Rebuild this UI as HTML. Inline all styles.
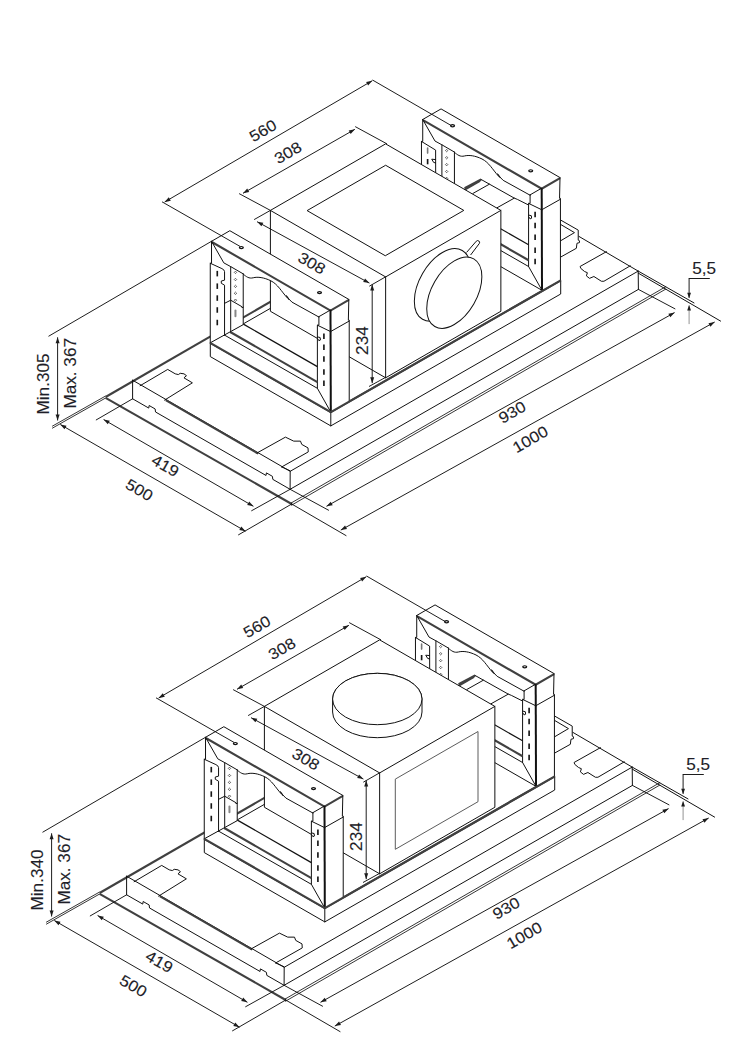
<!DOCTYPE html>
<html><head><meta charset="utf-8"><title>Dimensions</title><style>
html,body{margin:0;padding:0;background:#fff}
svg{display:block}
.l{fill:none;stroke:#111;stroke-width:1;stroke-linejoin:round;stroke-linecap:round}
.n{fill:none;stroke:#111;stroke-width:.85}
.m{fill:none;stroke:#111;stroke-width:1.2}
.k{fill:none;stroke:#404040;stroke-width:2.1}
.kk{fill:none;stroke:#111;stroke-width:2}
.w{fill:#fff;stroke:none}
.wf{fill:#fff;stroke:#111;stroke-width:1;stroke-linejoin:round}
.g{fill:none;stroke:#5c5c5c;stroke-width:1}
.h{fill:#fff;stroke:#111;stroke-width:1.2}
.s{stroke:#151515;stroke-width:1.65;stroke-linecap:butt}
.sg2{stroke:#777;stroke-width:1.6;stroke-linecap:round}
.sg{stroke:#888;stroke-width:2;stroke-linecap:round}
.d{fill:none;stroke:#222;stroke-width:.7}
.dl{fill:none;stroke:#111;stroke-width:.95}
.dg{fill:none;stroke:#888;stroke-width:.9}
.a{fill:#1c1c1c;stroke:none}
.t{font-family:"Liberation Sans",sans-serif;fill:#1e1e28;stroke:#1e1e28;stroke-width:.12}
</style></head><body>
<svg width="734" height="1045" viewBox="0 0 734 1045">
<rect width="734" height="1045" fill="#fff"/>
<g>
<polygon class="w" points="105.6,396.5 480,180.3 666.1,286.5 666.1,288.9 291.7,505.1 105.6,398.5"/>
<polyline class="k" points="105.6,397.8 291.7,504"/>
<polyline class="n" points="291.7,502.7 666.1,286.5"/>
<polyline class="n" points="291.7,505.1 666.1,288.9"/>
<polyline class="l" points="291.7,502.7 291.7,505.1"/>
<polygon class="w" points="132.6,380.2 480.6,180 638.2,271.1 638.4,289.4 290.1,489.3 132.6,398.8"/>
<polyline class="n" points="52.1,426.3 105.6,396"/>
<polyline class="n" points="52.1,428.3 105.6,398"/>
<polyline class="k" points="105.6,397 480,180.8"/>
<polyline class="l" points="578.9,236.4 638.2,271.1 694,302.9"/>
<polyline class="l" points="638.2,273.1 720.6,321.1"/>
<polyline class="l" points="132.6,380.2 132.6,398.8"/>
<polyline class="l" points="290.2,471.3 290.1,489.3"/>
<polyline class="l" points="638.2,271.1 638.4,289.4"/>
<polyline class="l" points="132.6,380.2 290.2,471.3 638.2,271.1"/>
<polyline class="l" points="290.1,489.3 638.4,289.4"/>
<polyline class="l" points="132.6,398.8 148.76,408.09 149.14,405.5 155.15,408.96 155.53,411.98 266.04,475.48 266.42,472.89 272.43,476.35 272.81,479.36 290.1,489.3"/>
<polyline class="k" points="165.7,400.13 258.23,453.62"/>
<polyline class="l" points="140.11,385.72 167.69,369.43 175.21,373.82 178.34,374.57 180.22,373.31 183.98,373.82 186.49,375.7 183.98,377.83 192.38,382.84 164.55,400.14"/>
<polyline class="l" points="257.12,452.92 285.45,437.13 293.72,441.14 300.49,441.14 301.74,444.4 308.01,447.91 308.26,451.92 281.69,466.96"/>
<polyline class="l" points="281.69,466.96 289.96,470.72"/>
<polyline class="l" points="606.43,251.67 580.11,266.46 580.74,268.34 584.5,271.47 587.38,272.73 586.38,275.86 589.51,278.37 593.9,276.49 601.42,281.25 603.93,281.25 630.25,265.83"/>
<polygon class="w" points="210.3,342.8 440.2,211 560.7,280.3 560.7,294 330.8,425.9 210.3,356.6"/>
<polyline class="l" points="210.3,342.8 440.2,211"/>
<polyline class="k" points="210.3,342.8 330.8,412.1 560.7,280.3"/>
<polyline class="l" points="210.3,342.8 210.3,356.6 330.8,425.9 560.7,294 560.7,280.3"/>
<polyline class="l" points="330.8,412.1 330.8,425.9"/>
<polyline class="k" points="464.59,188.3 481.16,179.5"/>
<polyline class="l" points="481.16,179.5 489.44,184.16 514.29,198.13 517.39,199.38 528.27,204.86"/>
<polyline class="l" points="489.44,184.16 472.87,193.47"/>
<polyline class="l" points="496.69,207.97 514.29,198.13"/>
<polyline class="l" points="560.68,220.08 578.23,230.11 578.23,240.14 579.48,240.76 579.48,242.64 576.98,243.27 576.35,248.29 560.68,257.06"/>
<polyline class="l" points="560.68,224.47 574.47,232.62 560.68,240.76"/>
<g transform="translate(211.2,-121.8)">
<polygon class="w" points="211.52,241.29 330.49,309.98 318.9,316.66 318.9,317.03 291.95,302.12 288.19,298.86 283.8,292.59 290.23,300.21 285.22,295.19 280.21,289.55 275.19,283.91 270.18,280.28 265.17,278.27 260.15,277.27 253.26,277.77 250.75,278.65 248.24,277.64 243.23,274.14 230.7,266.61 223.8,262.85"/>
<polygon class="w" points="211.52,241.29 223.8,262.85 230.7,266.61 243.23,273.88 243.23,324.65 224.43,335.3 210.26,342.82 210.26,263.23 211.52,263.23"/>
<polygon class="w" points="330.49,309.98 348.82,299.4 348.35,320.17 349.23,320.17 349.23,401.47 330.81,412.13 317.39,388.31 317.39,325.18 318.9,325.18 318.9,316.66"/>
<polygon class="w" points="210.26,342.82 243.86,324.39 317.39,366.63 317.39,388.31 330.81,412.13"/>
<polygon class="w" points="211.52,241.29 229.85,230.71 348.82,299.4 330.49,309.98"/>
<polyline class="l" points="211.52,241.29 229.85,230.71 348.82,299.4"/>
<polyline class="k" points="348.82,299.9 330.49,310.58 211.82,241.99"/>
<ellipse class="h" cx="241.35" cy="247.56" rx="2" ry="1.05"/>
<ellipse class="h" cx="319.52" cy="292.59" rx="2" ry="1.05"/>
<polyline class="l" points="211.52,241.29 211.52,263.23 210.26,263.23 210.26,342.82"/>
<polyline class="l" points="211.52,241.29 223.8,262.85 230.7,266.61 243.23,273.88"/>
<polyline class="l" points="210.26,263.23 224.42,271.89 224.55,335.3"/>
<polyline class="l" points="224.42,281.39 220.52,280.99 222.52,284.29 224.42,284.69"/>
<polyline class="l" points="230.7,266.61 230.7,332.8"/>
<polyline class="l" points="243.23,273.88 243.23,324.65"/>
<polyline class="l" points="224.55,303.34 230.7,300.21 241.98,306.72 241.98,307.73 243.23,307.23"/>
<polyline class="l" points="210.26,342.82 243.23,324.65"/>
<line class="sg2" x1="216.42" y1="269.89" x2="216.42" y2="274.89"/>
<line class="s" x1="216.42" y1="280.79" x2="216.42" y2="286.09"/>
<line class="s" x1="217.28" y1="295.32" x2="217.28" y2="300.83"/>
<line class="s" x1="217.28" y1="307.23" x2="217.28" y2="312.74"/>
<line class="s" x1="217.28" y1="319.76" x2="217.28" y2="325.28"/>
<polygon class="d" points="234.26,272.38 235.46,271.18 236.66,272.38 235.46,273.58"/>
<polygon class="d" points="234.26,279.52 235.46,278.32 236.66,279.52 235.46,280.72"/>
<polygon class="d" points="234.26,286.42 235.46,285.22 236.66,286.42 235.46,287.62"/>
<polygon class="d" points="234.26,293.31 235.46,292.11 236.66,293.31 235.46,294.51"/>
<polygon class="d" points="234.26,300.21 235.46,299.01 236.66,300.21 235.46,301.41"/>
<line class="sg" x1="235.46" y1="310.49" x2="235.46" y2="316.25"/>
<path class="l" d="M243.23 274.14 C246.36 276.64 248.87 278.9 253.26 277.77 S263.91 277.39 270.81 280.78 S281.46 291.43 287.1 297.7 S283.8 291.34 286.94 296.98 L291.95 302.12 L318.9 317.03"/>
<polyline class="l" points="318.9,316.66 330.49,309.98"/>
<polyline class="l" points="318.9,316.66 318.9,325.18 317.39,325.18 317.39,388.31 330.81,412.13"/>
<polyline class="l" points="317.39,325.18 330.81,331.7"/>
<polyline class="kk" points="330.49,309.98 330.81,412.13"/>
<polyline class="l" points="348.82,299.4 348.35,320.17 349.23,320.17 349.23,401.47"/>
<polyline class="l" points="330.81,331.45 349.23,321.04"/>
<line class="s" x1="323.91" y1="333.54" x2="323.91" y2="339.05"/>
<line class="s" x1="323.91" y1="344.57" x2="323.91" y2="350.08"/>
<line class="s" x1="323.91" y1="356.35" x2="323.91" y2="361.87"/>
<line class="s" x1="323.91" y1="369.26" x2="323.91" y2="374.78"/>
<line class="s" x1="323.91" y1="380.54" x2="323.91" y2="386.06"/>
<polyline class="l" points="317.64,336.92 320.15,337.55 320.4,340.06 318.9,340.68 317.64,338.8"/>
<polyline class="m" points="243.86,324.39 317.39,366.63"/>
<polyline class="k" points="230.7,332.28 317.39,382.05"/>
<polyline class="l" points="224.43,335.04 317.39,388.31"/>
<polyline class="l" points="210.26,342.82 330.81,412.13"/>
</g>
<polygon class="wf" points="270.4,210.4 385.63,143.87 500.86,210.4 500.86,311.27 385.63,377.8 270.4,311.27"/>
<polyline class="l" points="270.4,210.4 385.63,276.93 500.86,210.4"/>
<polyline class="l" points="385.63,276.93 385.63,377.8"/>
<polygon class="l" points="307.44,210.4 385.63,165.26 463.82,210.4 385.63,255.54"/>
<ellipse class="l" cx="0" cy="0" rx="39.7" ry="22.9" transform="translate(442.4,284.9) rotate(-60)"/>
<path class="wf" d="M466.6 252.4 L476.3 241.2 A1.9 1.9 0 0 1 479.3 243.5 L470.6 255"/>
<ellipse class="wf" cx="0" cy="0" rx="39" ry="22.5" transform="translate(454.3,292.7) rotate(-60)"/>
<polygon class="w" points="211.52,241.29 330.49,309.98 318.9,316.66 318.9,317.03 291.95,302.12 288.19,298.86 283.8,292.59 290.23,300.21 285.22,295.19 280.21,289.55 275.19,283.91 270.18,280.28 265.17,278.27 260.15,277.27 253.26,277.77 250.75,278.65 248.24,277.64 243.23,274.14 230.7,266.61 223.8,262.85"/>
<polygon class="w" points="211.52,241.29 223.8,262.85 230.7,266.61 243.23,273.88 243.23,324.65 224.43,335.3 210.26,342.82 210.26,263.23 211.52,263.23"/>
<polygon class="w" points="330.49,309.98 348.82,299.4 348.35,320.17 349.23,320.17 349.23,401.47 330.81,412.13 317.39,388.31 317.39,325.18 318.9,325.18 318.9,316.66"/>
<polygon class="w" points="210.26,342.82 243.86,324.39 317.39,366.63 317.39,388.31 330.81,412.13"/>
<polygon class="w" points="211.52,241.29 229.85,230.71 348.82,299.4 330.49,309.98"/>
<polyline class="l" points="211.52,241.29 229.85,230.71 348.82,299.4"/>
<polyline class="k" points="348.82,299.9 330.49,310.58 211.82,241.99"/>
<ellipse class="h" cx="241.35" cy="247.56" rx="2" ry="1.05"/>
<ellipse class="h" cx="319.52" cy="292.59" rx="2" ry="1.05"/>
<polyline class="l" points="211.52,241.29 211.52,263.23 210.26,263.23 210.26,342.82"/>
<polyline class="l" points="211.52,241.29 223.8,262.85 230.7,266.61 243.23,273.88"/>
<polyline class="l" points="210.26,263.23 221.92,268.62 223.8,269.87 224.55,271.63 224.55,280.15 221.29,281.03 221.29,283.29 224.55,285.17 224.55,335.3"/>
<polyline class="l" points="230.7,266.61 230.7,332.8"/>
<polyline class="l" points="243.23,273.88 243.23,324.65"/>
<polyline class="l" points="224.55,303.34 230.7,300.21 241.98,306.72 241.98,307.73 243.23,307.23"/>
<polyline class="l" points="210.26,342.82 243.23,324.65"/>
<line class="s" x1="217.28" y1="270.88" x2="217.28" y2="276.39"/>
<line class="s" x1="217.28" y1="283.41" x2="217.28" y2="288.93"/>
<line class="s" x1="217.28" y1="295.32" x2="217.28" y2="300.83"/>
<line class="s" x1="217.28" y1="307.23" x2="217.28" y2="312.74"/>
<line class="s" x1="217.28" y1="319.76" x2="217.28" y2="325.28"/>
<polygon class="d" points="234.26,272.38 235.46,271.18 236.66,272.38 235.46,273.58"/>
<polygon class="d" points="234.26,279.52 235.46,278.32 236.66,279.52 235.46,280.72"/>
<polygon class="d" points="234.26,286.42 235.46,285.22 236.66,286.42 235.46,287.62"/>
<polygon class="d" points="234.26,293.31 235.46,292.11 236.66,293.31 235.46,294.51"/>
<polygon class="d" points="234.26,300.21 235.46,299.01 236.66,300.21 235.46,301.41"/>
<line class="sg" x1="235.46" y1="310.49" x2="235.46" y2="316.25"/>
<path class="l" d="M243.23 274.14 C246.36 276.64 248.87 278.9 253.26 277.77 S263.91 277.39 270.81 280.78 S281.46 291.43 287.1 297.7 S283.8 291.34 286.94 296.98 L291.95 302.12 L318.9 317.03"/>
<polyline class="l" points="318.9,316.66 330.49,309.98"/>
<polyline class="l" points="318.9,316.66 318.9,325.18 317.39,325.18 317.39,388.31 330.81,412.13"/>
<polyline class="l" points="317.39,325.18 330.81,331.7"/>
<polyline class="kk" points="330.49,309.98 330.81,412.13"/>
<polyline class="l" points="348.82,299.4 348.35,320.17 349.23,320.17 349.23,401.47"/>
<polyline class="l" points="330.81,331.45 349.23,321.04"/>
<line class="s" x1="323.91" y1="333.54" x2="323.91" y2="339.05"/>
<line class="s" x1="323.91" y1="344.57" x2="323.91" y2="350.08"/>
<line class="s" x1="323.91" y1="356.35" x2="323.91" y2="361.87"/>
<line class="s" x1="323.91" y1="369.26" x2="323.91" y2="374.78"/>
<line class="s" x1="323.91" y1="380.54" x2="323.91" y2="386.06"/>
<polyline class="l" points="317.64,336.92 320.15,337.55 320.4,340.06 318.9,340.68 317.64,338.8"/>
<polyline class="m" points="243.86,324.39 317.39,366.63"/>
<polyline class="k" points="230.7,332.28 317.39,382.05"/>
<polyline class="l" points="224.43,335.04 317.39,388.31"/>
<polyline class="k" points="210.26,342.82 330.81,412.13"/>
<polyline class="k" points="330.81,412.13 560.7,280.3"/>
<polyline class="dl" points="48.5,336.3 211.52,241.29"/>
<polyline class="dl" points="57.6,337.3 57.6,420.5"/>
<polygon class="a" points="57.6,337.3 59.6,343.3 55.6,343.3"/>
<polygon class="a" points="57.6,420.5 55.6,414.5 59.6,414.5"/>
<polyline class="dl" points="103.6,419.5 253.4,506.3"/>
<polygon class="a" points="103.6,419.5 109.79,420.78 107.79,424.24"/>
<polygon class="a" points="253.4,506.3 247.21,505.02 249.21,501.56"/>
<polyline class="dl" points="60.3,424.5 245.5,531.2"/>
<polygon class="a" points="60.3,424.5 66.5,425.76 64.5,429.23"/>
<polygon class="a" points="245.5,531.2 239.3,529.94 241.3,526.47"/>
<polyline class="dl" points="326.5,506.3 674.6,312.6"/>
<polygon class="a" points="326.5,506.3 330.77,501.63 332.72,505.13"/>
<polygon class="a" points="674.6,312.6 670.33,317.27 668.38,313.77"/>
<polyline class="dl" points="340.8,530.1 714.7,322"/>
<polygon class="a" points="340.8,530.1 345.07,525.43 347.02,528.93"/>
<polygon class="a" points="714.7,322 710.43,326.67 708.48,323.17"/>
<polyline class="dl" points="164.6,202 372.3,80.7"/>
<polygon class="a" points="164.6,202 168.77,197.25 170.79,200.7"/>
<polygon class="a" points="372.3,80.7 368.13,85.45 366.11,82"/>
<polyline class="dl" points="243,193.3 354.9,129.3"/>
<polygon class="a" points="243,193.3 247.22,188.59 249.2,192.06"/>
<polygon class="a" points="354.9,129.3 350.68,134.01 348.7,130.54"/>
<polyline class="dl" points="257.1,221.7 369.4,283.1"/>
<polygon class="a" points="257.1,221.7 263.32,222.82 261.41,226.33"/>
<polygon class="a" points="369.4,283.1 363.18,281.98 365.09,278.47"/>
<polyline class="dl" points="372.2,284.5 372.2,383.2"/>
<polygon class="a" points="372.2,284.5 374.2,290.5 370.2,290.5"/>
<polygon class="a" points="372.2,383.2 370.2,377.2 374.2,377.2"/>
<polyline class="dl" points="132.6,398.8 95.9,420.1"/>
<polyline class="dl" points="290.1,489.3 251.3,510.9"/>
<polyline class="dl" points="290.1,489.3 328.9,510.4"/>
<polyline class="dl" points="638.4,289.4 675.3,309"/>
<polyline class="dl" points="291.7,504 238.2,535"/>
<polyline class="dl" points="291.7,504 346.4,535.8"/>
<polyline class="dl" points="162,201.8 240.2,246.5"/>
<polyline class="dl" points="372.5,80 451.3,125.6"/>
<polyline class="dl" points="239.1,193.6 270.4,210.4"/>
<polyline class="dl" points="355.2,126.6 387,143.9"/>
<polyline class="dl" points="254.1,219.6 270.4,210.4"/>
<polyline class="dl" points="369.3,286.2 385.7,276.8"/>
<polyline class="dl" points="369,386.5 385.7,377.3"/>
<polyline class="dl" points="688.7,278.5 709.8,278.5"/>
<polyline class="dl" points="689.1,278.5 689.1,297.8"/>
<polygon class="a" points="689.1,298.3 687.2,292.7 691,292.7"/>
<polyline class="dg" points="689.1,305.5 689.1,324.1"/>
<polygon class="a" points="689.1,305 691,310.6 687.2,310.6"/>
<text class="t" font-size="15.6" transform="translate(262.8,130.6) rotate(-30) scale(1.1,1)" text-anchor="middle" y="5.58">560</text>
<text class="t" font-size="15.6" transform="translate(287.9,152.6) rotate(-30) scale(1.1,1)" text-anchor="middle" y="5.58">308</text>
<text class="t" font-size="15.6" transform="translate(311.8,263) rotate(30) scale(1.1,1)" text-anchor="middle" y="5.58">308</text>
<text class="t" font-size="15.6" transform="translate(362.8,340.6) rotate(-90) scale(1.1,1)" text-anchor="middle" y="5.58">234</text>
<text class="t" font-size="15.6" transform="translate(43,384) rotate(-90) scale(1.1,1)" text-anchor="middle" y="5.58">Min.305</text>
<text class="t" font-size="15.6" transform="translate(70.1,373.3) rotate(-90) scale(1.1,1)" text-anchor="middle" y="5.58">Max. 367</text>
<text class="t" font-size="15.6" transform="translate(165.4,465.5) rotate(30) scale(1.1,1)" text-anchor="middle" y="5.58">419</text>
<text class="t" font-size="15.6" transform="translate(139.3,489.7) rotate(30) scale(1.1,1)" text-anchor="middle" y="5.58">500</text>
<text class="t" font-size="15.6" transform="translate(512,412) rotate(-30) scale(1.1,1)" text-anchor="middle" y="5.58">930</text>
<text class="t" font-size="15.6" transform="translate(530.1,439.1) rotate(-30) scale(1.1,1)" text-anchor="middle" y="5.58">1000</text>
<text class="t" font-size="15.6" transform="translate(704.2,268.4) rotate(0) scale(1.1,1)" text-anchor="middle" y="5.58">5,5</text>
</g>
<g transform="translate(-6,496)">
<polygon class="w" points="105.6,396.5 480,180.3 666.1,286.5 666.1,288.9 291.7,505.1 105.6,398.5"/>
<polyline class="k" points="105.6,397.8 291.7,504"/>
<polyline class="n" points="291.7,502.7 666.1,286.5"/>
<polyline class="n" points="291.7,505.1 666.1,288.9"/>
<polyline class="l" points="291.7,502.7 291.7,505.1"/>
<polygon class="w" points="132.6,380.2 480.6,180 638.2,271.1 638.4,289.4 290.1,489.3 132.6,398.8"/>
<polyline class="n" points="52.1,426.3 105.6,396"/>
<polyline class="n" points="52.1,428.3 105.6,398"/>
<polyline class="k" points="105.6,397 480,180.8"/>
<polyline class="l" points="578.9,236.4 638.2,271.1 694,302.9"/>
<polyline class="l" points="638.2,273.1 720.6,321.1"/>
<polyline class="l" points="132.6,380.2 132.6,398.8"/>
<polyline class="l" points="290.2,471.3 290.1,489.3"/>
<polyline class="l" points="638.2,271.1 638.4,289.4"/>
<polyline class="l" points="132.6,380.2 290.2,471.3 638.2,271.1"/>
<polyline class="l" points="290.1,489.3 638.4,289.4"/>
<polyline class="l" points="132.6,398.8 148.76,408.09 149.14,405.5 155.15,408.96 155.53,411.98 266.04,475.48 266.42,472.89 272.43,476.35 272.81,479.36 290.1,489.3"/>
<polyline class="k" points="165.7,400.13 258.23,453.62"/>
<polyline class="l" points="140.11,385.72 167.69,369.43 175.21,373.82 178.34,374.57 180.22,373.31 183.98,373.82 186.49,375.7 183.98,377.83 192.38,382.84 164.55,400.14"/>
<polyline class="l" points="257.12,452.92 285.45,437.13 293.72,441.14 300.49,441.14 301.74,444.4 308.01,447.91 308.26,451.92 281.69,466.96"/>
<polyline class="l" points="281.69,466.96 289.96,470.72"/>
<polyline class="l" points="606.43,251.67 580.11,266.46 580.74,268.34 584.5,271.47 587.38,272.73 586.38,275.86 589.51,278.37 593.9,276.49 601.42,281.25 603.93,281.25 630.25,265.83"/>
<polygon class="w" points="210.3,342.8 440.2,211 560.7,280.3 560.7,294 330.8,425.9 210.3,356.6"/>
<polyline class="l" points="210.3,342.8 440.2,211"/>
<polyline class="k" points="210.3,342.8 330.8,412.1 560.7,280.3"/>
<polyline class="l" points="210.3,342.8 210.3,356.6 330.8,425.9 560.7,294 560.7,280.3"/>
<polyline class="l" points="330.8,412.1 330.8,425.9"/>
<polyline class="k" points="464.59,188.3 481.16,179.5"/>
<polyline class="l" points="481.16,179.5 489.44,184.16 514.29,198.13 517.39,199.38 528.27,204.86"/>
<polyline class="l" points="489.44,184.16 472.87,193.47"/>
<polyline class="l" points="496.69,207.97 514.29,198.13"/>
<polyline class="l" points="560.68,220.08 578.23,230.11 578.23,240.14 579.48,240.76 579.48,242.64 576.98,243.27 576.35,248.29 560.68,257.06"/>
<polyline class="l" points="560.68,224.47 574.47,232.62 560.68,240.76"/>
<g transform="translate(211.2,-121.8)">
<polygon class="w" points="211.52,241.29 330.49,309.98 318.9,316.66 318.9,317.03 291.95,302.12 288.19,298.86 283.8,292.59 290.23,300.21 285.22,295.19 280.21,289.55 275.19,283.91 270.18,280.28 265.17,278.27 260.15,277.27 253.26,277.77 250.75,278.65 248.24,277.64 243.23,274.14 230.7,266.61 223.8,262.85"/>
<polygon class="w" points="211.52,241.29 223.8,262.85 230.7,266.61 243.23,273.88 243.23,324.65 224.43,335.3 210.26,342.82 210.26,263.23 211.52,263.23"/>
<polygon class="w" points="330.49,309.98 348.82,299.4 348.35,320.17 349.23,320.17 349.23,401.47 330.81,412.13 317.39,388.31 317.39,325.18 318.9,325.18 318.9,316.66"/>
<polygon class="w" points="210.26,342.82 243.86,324.39 317.39,366.63 317.39,388.31 330.81,412.13"/>
<polygon class="w" points="211.52,241.29 229.85,230.71 348.82,299.4 330.49,309.98"/>
<polyline class="l" points="211.52,241.29 229.85,230.71 348.82,299.4"/>
<polyline class="k" points="348.82,299.9 330.49,310.58 211.82,241.99"/>
<ellipse class="h" cx="241.35" cy="247.56" rx="2" ry="1.05"/>
<ellipse class="h" cx="319.52" cy="292.59" rx="2" ry="1.05"/>
<polyline class="l" points="211.52,241.29 211.52,263.23 210.26,263.23 210.26,342.82"/>
<polyline class="l" points="211.52,241.29 223.8,262.85 230.7,266.61 243.23,273.88"/>
<polyline class="l" points="210.26,263.23 224.42,271.89 224.55,335.3"/>
<polyline class="l" points="224.42,281.39 220.52,280.99 222.52,284.29 224.42,284.69"/>
<polyline class="l" points="230.7,266.61 230.7,332.8"/>
<polyline class="l" points="243.23,273.88 243.23,324.65"/>
<polyline class="l" points="224.55,303.34 230.7,300.21 241.98,306.72 241.98,307.73 243.23,307.23"/>
<polyline class="l" points="210.26,342.82 243.23,324.65"/>
<line class="sg2" x1="216.42" y1="269.89" x2="216.42" y2="274.89"/>
<line class="s" x1="216.42" y1="280.79" x2="216.42" y2="286.09"/>
<line class="s" x1="217.28" y1="295.32" x2="217.28" y2="300.83"/>
<line class="s" x1="217.28" y1="307.23" x2="217.28" y2="312.74"/>
<line class="s" x1="217.28" y1="319.76" x2="217.28" y2="325.28"/>
<polygon class="d" points="234.26,272.38 235.46,271.18 236.66,272.38 235.46,273.58"/>
<polygon class="d" points="234.26,279.52 235.46,278.32 236.66,279.52 235.46,280.72"/>
<polygon class="d" points="234.26,286.42 235.46,285.22 236.66,286.42 235.46,287.62"/>
<polygon class="d" points="234.26,293.31 235.46,292.11 236.66,293.31 235.46,294.51"/>
<polygon class="d" points="234.26,300.21 235.46,299.01 236.66,300.21 235.46,301.41"/>
<line class="sg" x1="235.46" y1="310.49" x2="235.46" y2="316.25"/>
<path class="l" d="M243.23 274.14 C246.36 276.64 248.87 278.9 253.26 277.77 S263.91 277.39 270.81 280.78 S281.46 291.43 287.1 297.7 S283.8 291.34 286.94 296.98 L291.95 302.12 L318.9 317.03"/>
<polyline class="l" points="318.9,316.66 330.49,309.98"/>
<polyline class="l" points="318.9,316.66 318.9,325.18 317.39,325.18 317.39,388.31 330.81,412.13"/>
<polyline class="l" points="317.39,325.18 330.81,331.7"/>
<polyline class="kk" points="330.49,309.98 330.81,412.13"/>
<polyline class="l" points="348.82,299.4 348.35,320.17 349.23,320.17 349.23,401.47"/>
<polyline class="l" points="330.81,331.45 349.23,321.04"/>
<line class="s" x1="323.91" y1="333.54" x2="323.91" y2="339.05"/>
<line class="s" x1="323.91" y1="344.57" x2="323.91" y2="350.08"/>
<line class="s" x1="323.91" y1="356.35" x2="323.91" y2="361.87"/>
<line class="s" x1="323.91" y1="369.26" x2="323.91" y2="374.78"/>
<line class="s" x1="323.91" y1="380.54" x2="323.91" y2="386.06"/>
<polyline class="l" points="317.64,336.92 320.15,337.55 320.4,340.06 318.9,340.68 317.64,338.8"/>
<polyline class="m" points="243.86,324.39 317.39,366.63"/>
<polyline class="k" points="230.7,332.28 317.39,382.05"/>
<polyline class="l" points="224.43,335.04 317.39,388.31"/>
<polyline class="l" points="210.26,342.82 330.81,412.13"/>
</g>
<polygon class="wf" points="270.4,210.4 385.63,143.87 500.86,210.4 500.86,311.27 385.63,377.8 270.4,311.27"/>
<polyline class="l" points="270.4,210.4 385.63,276.93 500.86,210.4"/>
<polyline class="l" points="385.63,276.93 385.63,377.8"/>
<path class="wf" d="M338.6 216 A44.7 25.7 0 0 0 428 216 L428 203 A44.7 25.7 0 0 0 338.6 203 Z"/>
<ellipse class="wf" cx="383.3" cy="203" rx="44.7" ry="25.7"/>
<polygon class="g" points="401.3,283.1 484,235.5 484,305.7 401.3,353.3"/>
<polygon class="w" points="211.52,241.29 330.49,309.98 318.9,316.66 318.9,317.03 291.95,302.12 288.19,298.86 283.8,292.59 290.23,300.21 285.22,295.19 280.21,289.55 275.19,283.91 270.18,280.28 265.17,278.27 260.15,277.27 253.26,277.77 250.75,278.65 248.24,277.64 243.23,274.14 230.7,266.61 223.8,262.85"/>
<polygon class="w" points="211.52,241.29 223.8,262.85 230.7,266.61 243.23,273.88 243.23,324.65 224.43,335.3 210.26,342.82 210.26,263.23 211.52,263.23"/>
<polygon class="w" points="330.49,309.98 348.82,299.4 348.35,320.17 349.23,320.17 349.23,401.47 330.81,412.13 317.39,388.31 317.39,325.18 318.9,325.18 318.9,316.66"/>
<polygon class="w" points="210.26,342.82 243.86,324.39 317.39,366.63 317.39,388.31 330.81,412.13"/>
<polygon class="w" points="211.52,241.29 229.85,230.71 348.82,299.4 330.49,309.98"/>
<polyline class="l" points="211.52,241.29 229.85,230.71 348.82,299.4"/>
<polyline class="k" points="348.82,299.9 330.49,310.58 211.82,241.99"/>
<ellipse class="h" cx="241.35" cy="247.56" rx="2" ry="1.05"/>
<ellipse class="h" cx="319.52" cy="292.59" rx="2" ry="1.05"/>
<polyline class="l" points="211.52,241.29 211.52,263.23 210.26,263.23 210.26,342.82"/>
<polyline class="l" points="211.52,241.29 223.8,262.85 230.7,266.61 243.23,273.88"/>
<polyline class="l" points="210.26,263.23 221.92,268.62 223.8,269.87 224.55,271.63 224.55,280.15 221.29,281.03 221.29,283.29 224.55,285.17 224.55,335.3"/>
<polyline class="l" points="230.7,266.61 230.7,332.8"/>
<polyline class="l" points="243.23,273.88 243.23,324.65"/>
<polyline class="l" points="224.55,303.34 230.7,300.21 241.98,306.72 241.98,307.73 243.23,307.23"/>
<polyline class="l" points="210.26,342.82 243.23,324.65"/>
<line class="s" x1="217.28" y1="270.88" x2="217.28" y2="276.39"/>
<line class="s" x1="217.28" y1="283.41" x2="217.28" y2="288.93"/>
<line class="s" x1="217.28" y1="295.32" x2="217.28" y2="300.83"/>
<line class="s" x1="217.28" y1="307.23" x2="217.28" y2="312.74"/>
<line class="s" x1="217.28" y1="319.76" x2="217.28" y2="325.28"/>
<polygon class="d" points="234.26,272.38 235.46,271.18 236.66,272.38 235.46,273.58"/>
<polygon class="d" points="234.26,279.52 235.46,278.32 236.66,279.52 235.46,280.72"/>
<polygon class="d" points="234.26,286.42 235.46,285.22 236.66,286.42 235.46,287.62"/>
<polygon class="d" points="234.26,293.31 235.46,292.11 236.66,293.31 235.46,294.51"/>
<polygon class="d" points="234.26,300.21 235.46,299.01 236.66,300.21 235.46,301.41"/>
<line class="sg" x1="235.46" y1="310.49" x2="235.46" y2="316.25"/>
<path class="l" d="M243.23 274.14 C246.36 276.64 248.87 278.9 253.26 277.77 S263.91 277.39 270.81 280.78 S281.46 291.43 287.1 297.7 S283.8 291.34 286.94 296.98 L291.95 302.12 L318.9 317.03"/>
<polyline class="l" points="318.9,316.66 330.49,309.98"/>
<polyline class="l" points="318.9,316.66 318.9,325.18 317.39,325.18 317.39,388.31 330.81,412.13"/>
<polyline class="l" points="317.39,325.18 330.81,331.7"/>
<polyline class="kk" points="330.49,309.98 330.81,412.13"/>
<polyline class="l" points="348.82,299.4 348.35,320.17 349.23,320.17 349.23,401.47"/>
<polyline class="l" points="330.81,331.45 349.23,321.04"/>
<line class="s" x1="323.91" y1="333.54" x2="323.91" y2="339.05"/>
<line class="s" x1="323.91" y1="344.57" x2="323.91" y2="350.08"/>
<line class="s" x1="323.91" y1="356.35" x2="323.91" y2="361.87"/>
<line class="s" x1="323.91" y1="369.26" x2="323.91" y2="374.78"/>
<line class="s" x1="323.91" y1="380.54" x2="323.91" y2="386.06"/>
<polyline class="l" points="317.64,336.92 320.15,337.55 320.4,340.06 318.9,340.68 317.64,338.8"/>
<polyline class="m" points="243.86,324.39 317.39,366.63"/>
<polyline class="k" points="230.7,332.28 317.39,382.05"/>
<polyline class="l" points="224.43,335.04 317.39,388.31"/>
<polyline class="k" points="210.26,342.82 330.81,412.13"/>
<polyline class="k" points="330.81,412.13 560.7,280.3"/>
<polyline class="dl" points="48.5,336.3 211.52,241.29"/>
<polyline class="dl" points="57.6,337.3 57.6,420.5"/>
<polygon class="a" points="57.6,337.3 59.6,343.3 55.6,343.3"/>
<polygon class="a" points="57.6,420.5 55.6,414.5 59.6,414.5"/>
<polyline class="dl" points="103.6,419.5 253.4,506.3"/>
<polygon class="a" points="103.6,419.5 109.79,420.78 107.79,424.24"/>
<polygon class="a" points="253.4,506.3 247.21,505.02 249.21,501.56"/>
<polyline class="dl" points="60.3,424.5 245.5,531.2"/>
<polygon class="a" points="60.3,424.5 66.5,425.76 64.5,429.23"/>
<polygon class="a" points="245.5,531.2 239.3,529.94 241.3,526.47"/>
<polyline class="dl" points="326.5,506.3 674.6,312.6"/>
<polygon class="a" points="326.5,506.3 330.77,501.63 332.72,505.13"/>
<polygon class="a" points="674.6,312.6 670.33,317.27 668.38,313.77"/>
<polyline class="dl" points="340.8,530.1 714.7,322"/>
<polygon class="a" points="340.8,530.1 345.07,525.43 347.02,528.93"/>
<polygon class="a" points="714.7,322 710.43,326.67 708.48,323.17"/>
<polyline class="dl" points="164.6,202 372.3,80.7"/>
<polygon class="a" points="164.6,202 168.77,197.25 170.79,200.7"/>
<polygon class="a" points="372.3,80.7 368.13,85.45 366.11,82"/>
<polyline class="dl" points="243,193.3 354.9,129.3"/>
<polygon class="a" points="243,193.3 247.22,188.59 249.2,192.06"/>
<polygon class="a" points="354.9,129.3 350.68,134.01 348.7,130.54"/>
<polyline class="dl" points="257.1,221.7 369.4,283.1"/>
<polygon class="a" points="257.1,221.7 263.32,222.82 261.41,226.33"/>
<polygon class="a" points="369.4,283.1 363.18,281.98 365.09,278.47"/>
<polyline class="dl" points="372.2,284.5 372.2,383.2"/>
<polygon class="a" points="372.2,284.5 374.2,290.5 370.2,290.5"/>
<polygon class="a" points="372.2,383.2 370.2,377.2 374.2,377.2"/>
<polyline class="dl" points="132.6,398.8 95.9,420.1"/>
<polyline class="dl" points="290.1,489.3 251.3,510.9"/>
<polyline class="dl" points="290.1,489.3 328.9,510.4"/>
<polyline class="dl" points="638.4,289.4 675.3,309"/>
<polyline class="dl" points="291.7,504 238.2,535"/>
<polyline class="dl" points="291.7,504 346.4,535.8"/>
<polyline class="dl" points="162,201.8 240.2,246.5"/>
<polyline class="dl" points="372.5,80 451.3,125.6"/>
<polyline class="dl" points="239.1,193.6 270.4,210.4"/>
<polyline class="dl" points="355.2,126.6 387,143.9"/>
<polyline class="dl" points="254.1,219.6 270.4,210.4"/>
<polyline class="dl" points="369.3,286.2 385.7,276.8"/>
<polyline class="dl" points="369,386.5 385.7,377.3"/>
<polyline class="dl" points="688.7,278.5 709.8,278.5"/>
<polyline class="dl" points="689.1,278.5 689.1,297.8"/>
<polygon class="a" points="689.1,298.3 687.2,292.7 691,292.7"/>
<polyline class="dg" points="689.1,305.5 689.1,324.1"/>
<polygon class="a" points="689.1,305 691,310.6 687.2,310.6"/>
<text class="t" font-size="15.6" transform="translate(262.8,130.6) rotate(-30) scale(1.1,1)" text-anchor="middle" y="5.58">560</text>
<text class="t" font-size="15.6" transform="translate(287.9,152.6) rotate(-30) scale(1.1,1)" text-anchor="middle" y="5.58">308</text>
<text class="t" font-size="15.6" transform="translate(311.8,263) rotate(30) scale(1.1,1)" text-anchor="middle" y="5.58">308</text>
<text class="t" font-size="15.6" transform="translate(362.8,340.6) rotate(-90) scale(1.1,1)" text-anchor="middle" y="5.58">234</text>
<text class="t" font-size="15.6" transform="translate(43,384) rotate(-90) scale(1.1,1)" text-anchor="middle" y="5.58">Min.340</text>
<text class="t" font-size="15.6" transform="translate(70.1,373.3) rotate(-90) scale(1.1,1)" text-anchor="middle" y="5.58">Max. 367</text>
<text class="t" font-size="15.6" transform="translate(165.4,465.5) rotate(30) scale(1.1,1)" text-anchor="middle" y="5.58">419</text>
<text class="t" font-size="15.6" transform="translate(139.3,489.7) rotate(30) scale(1.1,1)" text-anchor="middle" y="5.58">500</text>
<text class="t" font-size="15.6" transform="translate(512,412) rotate(-30) scale(1.1,1)" text-anchor="middle" y="5.58">930</text>
<text class="t" font-size="15.6" transform="translate(530.1,439.1) rotate(-30) scale(1.1,1)" text-anchor="middle" y="5.58">1000</text>
<text class="t" font-size="15.6" transform="translate(704.2,268.4) rotate(0) scale(1.1,1)" text-anchor="middle" y="5.58">5,5</text>
</g>
</svg></body></html>
